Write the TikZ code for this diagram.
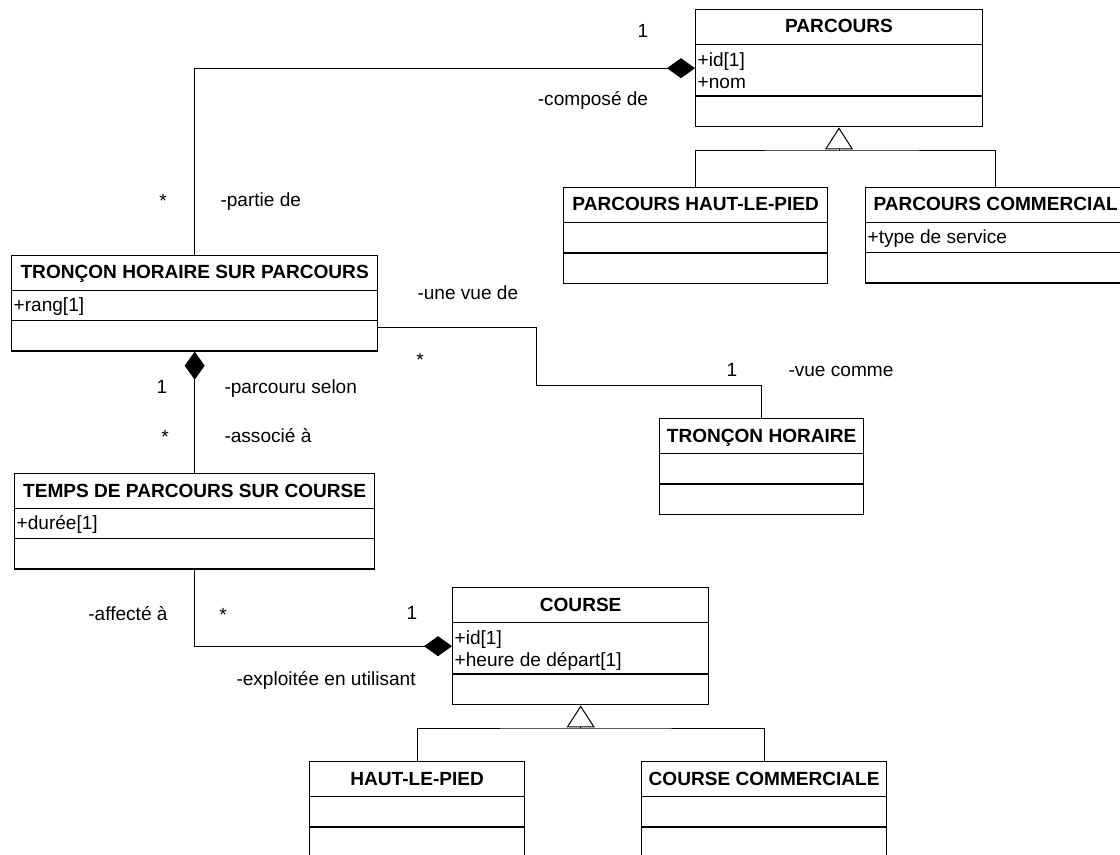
\documentclass[tikz,border=0pt]{standalone}
\usepackage{fontspec}
\setmainfont{Liberation Sans}
\tikzset{every picture/.style={line width=0.75pt}}
\usetikzlibrary{arrows.meta}
\usetikzlibrary{shapes.multipart}

\begin{document}
\begin{tikzpicture}
    [
    x=0.75pt, y=-0.75pt,
    umlclass/.style={
        draw,
        line width=1pt,
        rectangle split,
        rectangle split parts=3,
        rectangle split part align={center,left,left},
        anchor=north west,
        inner xsep=1.5pt,
        inner ysep=0pt,
        align=left, % needed for two attribute lines
        font=\fontsize{14.3}{16.5}\selectfont
    },
    lbl/.style={
        inner sep=0pt,
        font=\fontsize{14.3}{16.5}\selectfont
    },
    comp/.style={
        -{Diamond[length=21pt,width=15pt]}
    },
    gen/.style={
        -{Triangle[open,length=16.5pt,width=21pt]}
    },
    ]

    \useasboundingbox (0,0) rectangle (1120,855);
    \clip (0,0) rectangle (1120,855);

    \draw (695,9) node[umlclass, minimum width=215pt] (parcours) {\textbf{PARCOURS}\rule[-8pt]{0pt}{25pt}
        \nodepart{two}\rule{0pt}{15.8pt}+id[1]\\+nom\rule[-5.5pt]{0pt}{5.5pt}
        \nodepart{three}\rule{0pt}{22pt}};
    \draw (563,187) node[umlclass, minimum width=198pt] (parcourshlp) {\textbf{PARCOURS HAUT-LE-PIED}\rule[-8pt]{0pt}{25pt}
        \nodepart{two}\rule{0pt}{22pt}
        \nodepart{three}\rule{0pt}{22pt}};
    \draw (865,187) node[umlclass, minimum width=195pt] (parcourscom) {\textbf{PARCOURS COMMERCIAL}\rule[-8pt]{0pt}{25pt}
        \nodepart{two}+type de service\rule[-6pt]{0pt}{21.5pt}
        \nodepart{three}\rule{0pt}{22pt}};
    \draw (11,255) node[umlclass, minimum width=274.5pt] (troncsp) {\textbf{TRONÇON HORAIRE SUR PARCOURS}\rule[-8pt]{0pt}{25pt}
        \nodepart{two}+rang[1]\rule[-6pt]{0pt}{21.5pt}
        \nodepart{three}\rule{0pt}{22pt}};
    \draw (659,418) node[umlclass, minimum width=153pt] (tronc) {\textbf{TRONÇON HORAIRE}\rule[-8pt]{0pt}{25pt}
        \nodepart{two}\rule{0pt}{22pt}
        \nodepart{three}\rule{0pt}{22pt}};
    \draw (14,473) node[umlclass, minimum width=270pt] (temps) {\textbf{TEMPS DE PARCOURS SUR COURSE}\rule[-8pt]{0pt}{25pt}
        \nodepart{two}+durée[1]\rule[-6pt]{0pt}{21.5pt}
        \nodepart{three}\rule{0pt}{22pt}};
    \draw (452,587) node[umlclass, minimum width=192pt] (course) {\textbf{COURSE}\rule[-8pt]{0pt}{25pt}
        \nodepart{two}\rule{0pt}{15.8pt}+id[1]\\+heure de départ[1]\rule[-5.5pt]{0pt}{5.5pt}
        \nodepart{three}\rule{0pt}{22pt}};
    \draw (309,761) node[umlclass, minimum width=161.25pt] (hautlepied) {\textbf{HAUT-LE-PIED}\rule[-8pt]{0pt}{25pt}
        \nodepart{two}\rule{0pt}{22pt}
        \nodepart{three}\rule{0pt}{22pt}};
    \draw (641,761) node[umlclass, minimum width=183.75pt] (coursecom) {\textbf{COURSE COMMERCIALE}\rule[-8pt]{0pt}{25pt}
        \nodepart{two}\rule{0pt}{22pt}
        \nodepart{three}\rule{0pt}{22pt}};

    \draw[comp] (troncsp.north) |- (parcours.west);
    \draw[comp] (temps.north) -- (troncsp.south);
    \draw ([yshift=-18pt]troncsp.east) -| (536,385) -| (tronc.north);
    \draw[comp] (temps.south) |- (course.west);

    \coordinate (pg) at (parcours.south |- 0,151);
    \draw[gen] (pg) -- (parcours.south);
    \draw (parcourshlp.north) |- (pg) -| (parcourscom.north);
    \coordinate (cg) at (course.south |- 0,728);
    \draw[gen] (cg) -- (course.south);
    \draw (hautlepied.north) |- (cg) -| (coursecom.north);

    \node[lbl, anchor=base] (m1) at (643,38) {1};
    \node[lbl, anchor=base] (r1) at (593,106) {-composé de};
    \node[lbl, anchor=base] (m2) at (163,208) {*};
    \node[lbl, anchor=base west] (r2) at (220,207) {-partie de};
    \node[lbl, anchor=base west] (r3) at (417,300) {-une vue de};
    \node[lbl, anchor=base] (m3) at (420,366) {*};
    \node[lbl, anchor=base] (m4) at (732,377) {1};
    \node[lbl, anchor=base west] (r4) at (788,377) {-vue comme};
    \node[lbl, anchor=base] (m5) at (162,393) {1};
    \node[lbl, anchor=base west] (r5) at (224,393) {-parcouru selon};
    \node[lbl, anchor=base] (m6) at (165,443) {*};
    \node[lbl, anchor=base west] (r6) at (224,442) {-associé à};
    \node[lbl, anchor=base east] (r7) at (168,620) {-affecté à};
    \node[lbl, anchor=base] (m7) at (223,621) {*};
    \node[lbl, anchor=base] (m8) at (412,619) {1};
    \node[lbl, anchor=base west] (r8) at (236,685) {-exploitée en utilisant};

\end{tikzpicture}
\end{document}
